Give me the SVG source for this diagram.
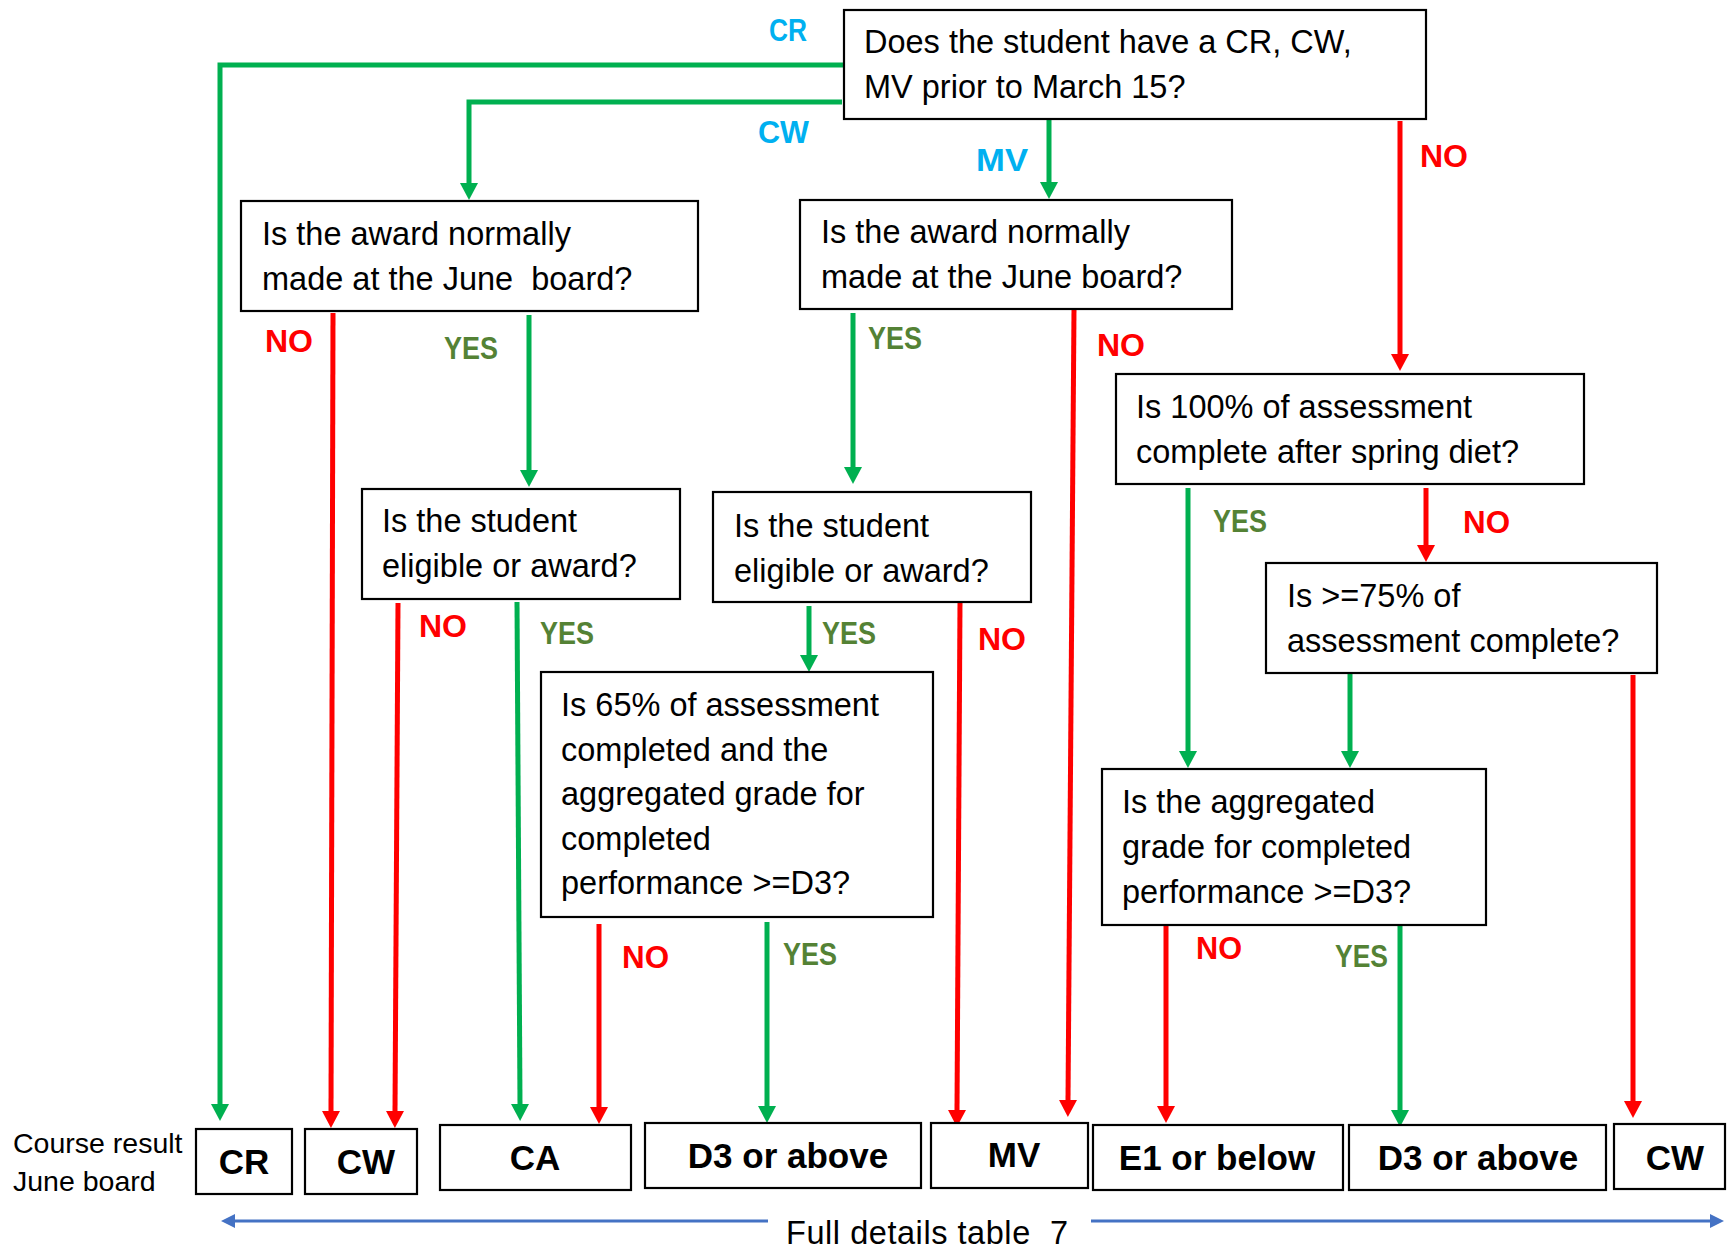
<svg xmlns="http://www.w3.org/2000/svg" width="1734" height="1254" viewBox="0 0 1734 1254">
<style>
.box{fill:#fff;stroke:#000;stroke-width:2.2}
.t{font-family:"Liberation Sans",Arial,sans-serif;font-size:32.5px;fill:#000;white-space:pre}
.res{font-family:"Liberation Sans",Arial,sans-serif;font-size:35px;font-weight:bold;fill:#000;text-anchor:middle}
.lbl{font-family:"Liberation Sans",Arial,sans-serif;font-size:31px;font-weight:bold}
.no{fill:#FF0000}.yes{fill:#548235}.bl{fill:#00B0F0}
.g{stroke:#00B050;stroke-width:5;fill:none;marker-end:url(#ag)}
.r{stroke:#FF0000;stroke-width:5;fill:none;marker-end:url(#ar)}
.b{stroke:#4472C4;stroke-width:3;fill:none;marker-end:url(#ab)}
</style>
<defs>
<marker id="ag" markerUnits="userSpaceOnUse" markerWidth="18" markerHeight="18" refX="0" refY="9" orient="auto"><path d="M0,0 L17,9 L0,18 z" fill="#00B050"/></marker>
<marker id="ar" markerUnits="userSpaceOnUse" markerWidth="18" markerHeight="18" refX="0" refY="9" orient="auto"><path d="M0,0 L17,9 L0,18 z" fill="#FF0000"/></marker>
<marker id="ab" markerUnits="userSpaceOnUse" markerWidth="15" markerHeight="14" refX="0" refY="7" orient="auto"><path d="M0,0 L14,7 L0,14 z" fill="#4472C4"/></marker>
</defs>
<rect width="1734" height="1254" fill="#fff"/>

<g id="connectors">
<path class="g" d="M844,65 H220 V1104"/>
<path class="g" d="M842,102 H469 V183"/>
<path class="g" d="M1049,119 V182"/>
<path class="r" d="M1400,121 V354"/>
<path class="r" d="M333,313 L331,1111"/>
<path class="g" d="M529,315 V470"/>
<path class="g" d="M853,313 V467"/>
<path class="r" d="M1074,309 L1068,1100"/>
<path class="r" d="M398,603 L395,1111"/>
<path class="g" d="M517,602 L520,1104"/>
<path class="g" d="M809,606 V655"/>
<path class="r" d="M960,602 L957,1110"/>
<path class="r" d="M599,924 V1107"/>
<path class="g" d="M767,922 V1106"/>
<path class="g" d="M1188,488 V751"/>
<path class="r" d="M1426,488 V545"/>
<path class="g" d="M1350,673 V751"/>
<path class="r" d="M1633,675 V1101"/>
<path class="r" d="M1166,925 V1106"/>
<path class="g" d="M1400,925 V1110"/>
<path class="b" d="M768,1221 H235"/>
<path class="b" d="M1091,1221 H1710"/>
</g>

<g id="labels">
<text class="lbl bl" x="769" y="41" textLength="38" lengthAdjust="spacingAndGlyphs">CR</text>
<text class="lbl bl" x="758" y="143" textLength="51" lengthAdjust="spacingAndGlyphs">CW</text>
<text class="lbl bl" x="976" y="171" textLength="52" lengthAdjust="spacingAndGlyphs">MV</text>
<text class="lbl no" x="1420" y="167" textLength="48" lengthAdjust="spacingAndGlyphs">NO</text>
<text class="lbl no" x="265" y="352" textLength="48" lengthAdjust="spacingAndGlyphs">NO</text>
<text class="lbl yes" x="444" y="359" textLength="54" lengthAdjust="spacingAndGlyphs">YES</text>
<text class="lbl yes" x="868" y="349" textLength="54" lengthAdjust="spacingAndGlyphs">YES</text>
<text class="lbl no" x="1097" y="356" textLength="48" lengthAdjust="spacingAndGlyphs">NO</text>
<text class="lbl no" x="419" y="637" textLength="48" lengthAdjust="spacingAndGlyphs">NO</text>
<text class="lbl yes" x="540" y="644" textLength="54" lengthAdjust="spacingAndGlyphs">YES</text>
<text class="lbl yes" x="822" y="644" textLength="54" lengthAdjust="spacingAndGlyphs">YES</text>
<text class="lbl no" x="978" y="650" textLength="48" lengthAdjust="spacingAndGlyphs">NO</text>
<text class="lbl yes" x="1213" y="532" textLength="54" lengthAdjust="spacingAndGlyphs">YES</text>
<text class="lbl no" x="1463" y="533" textLength="47" lengthAdjust="spacingAndGlyphs">NO</text>
<text class="lbl no" x="622" y="968" textLength="47" lengthAdjust="spacingAndGlyphs">NO</text>
<text class="lbl yes" x="783" y="965" textLength="54" lengthAdjust="spacingAndGlyphs">YES</text>
<text class="lbl no" x="1196" y="959" textLength="46" lengthAdjust="spacingAndGlyphs">NO</text>
<text class="lbl yes" x="1335" y="967" textLength="53" lengthAdjust="spacingAndGlyphs">YES</text>
</g>

<g id="q-main"><rect class="box" x="844" y="10" width="582" height="109"/>
<text class="t" x="864" y="53">Does the student have a CR, CW,</text>
<text class="t" x="864" y="98">MV prior to March 15?</text></g>

<g id="q-award-cw"><rect class="box" x="241" y="201" width="457" height="110"/>
<text class="t" x="262" y="245">Is the award normally</text>
<text class="t" x="262" y="290">made at the June  board?</text></g>

<g id="q-award-mv"><rect class="box" x="800" y="200" width="432" height="109"/>
<text class="t" x="821" y="243">Is the award normally</text>
<text class="t" x="821" y="288">made at the June board?</text></g>

<g id="q-eligible-1"><rect class="box" x="362" y="489" width="318" height="110"/>
<text class="t" x="382" y="532">Is the student</text>
<text class="t" x="382" y="577">eligible or award?</text></g>

<g id="q-eligible-2"><rect class="box" x="713" y="492" width="318" height="110"/>
<text class="t" x="734" y="537">Is the student</text>
<text class="t" x="734" y="582">eligible or award?</text></g>

<g id="q-65"><rect class="box" x="541" y="672" width="392" height="245"/>
<text class="t" x="561" y="716">Is 65% of assessment</text>
<text class="t" x="561" y="761">completed and the</text>
<text class="t" x="561" y="805">aggregated grade for</text>
<text class="t" x="561" y="850">completed</text>
<text class="t" x="561" y="894">performance &gt;=D3?</text></g>

<g id="q-100"><rect class="box" x="1116" y="374" width="468" height="110"/>
<text class="t" x="1136" y="418">Is 100% of assessment</text>
<text class="t" x="1136" y="463">complete after spring diet?</text></g>

<g id="q-75"><rect class="box" x="1266" y="563" width="391" height="110"/>
<text class="t" x="1287" y="607">Is &gt;=75% of</text>
<text class="t" x="1287" y="652">assessment complete?</text></g>

<g id="q-agg"><rect class="box" x="1102" y="769" width="384" height="156"/>
<text class="t" x="1122" y="813">Is the aggregated</text>
<text class="t" x="1122" y="858">grade for completed</text>
<text class="t" x="1122" y="903">performance &gt;=D3?</text></g>

<g id="row-label">
<text class="t" x="13" y="1153" style="font-size:28.5px">Course result</text>
<text class="t" x="13" y="1191" style="font-size:28.5px">June board</text></g>

<g id="r-cr"><rect class="box" x="196" y="1129" width="96" height="65"/><text class="res" x="244" y="1174">CR</text></g>
<g id="r-cw1"><rect class="box" x="305" y="1129" width="112" height="65"/><text class="res" x="366" y="1174">CW</text></g>
<g id="r-ca"><rect class="box" x="440" y="1125" width="191" height="65"/><text class="res" x="535" y="1170">CA</text></g>
<g id="r-d3a"><rect class="box" x="645" y="1123" width="276" height="65"/><text class="res" x="788" y="1168">D3 or above</text></g>
<g id="r-mv"><rect class="box" x="931" y="1123" width="157" height="65"/><text class="res" x="1014" y="1167">MV</text></g>
<g id="r-e1"><rect class="box" x="1093" y="1125" width="250" height="65"/><text class="res" x="1217" y="1170">E1 or below</text></g>
<g id="r-d3b"><rect class="box" x="1349" y="1125" width="257" height="65"/><text class="res" x="1478" y="1170">D3 or above</text></g>
<g id="r-cw2"><rect class="box" x="1614" y="1124" width="111" height="65"/><text class="res" x="1675" y="1170">CW</text></g>

<g id="footer"><text class="t" x="786" y="1244" textLength="282" lengthAdjust="spacing">Full details table  7</text></g>
</svg>
